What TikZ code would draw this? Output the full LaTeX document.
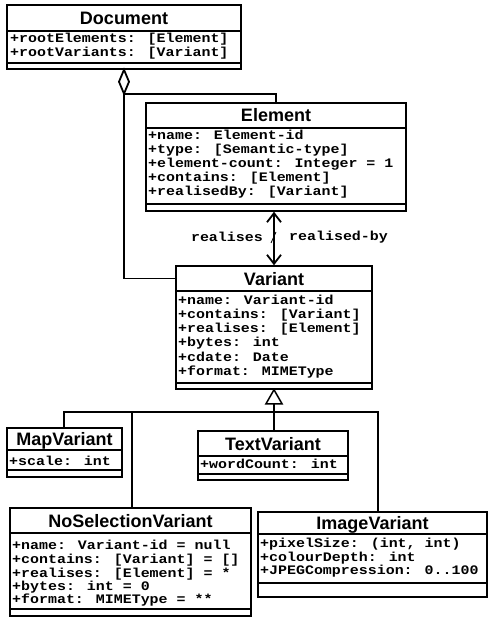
\documentclass[tikz,border=0pt]{standalone}
\usepackage{fontspec}
\usetikzlibrary{fit,arrows.meta}
\newfontfamily\titlefamily{Liberation Sans}
\newfontfamily\monofamily[FakeStretch=1.15]{Liberation Mono}

\tikzset{
  classbox/.style={draw, line width=1.5pt, inner sep=0pt},
  compline/.style={line width=1.2pt},
  classname/.style={font=\titlefamily\bfseries\fontsize{18}{20}\selectfont,
    inner sep=0pt, text height=13pt, text depth=0pt},
  attr/.style={font=\monofamily\bfseries\fontsize{13}{14}\selectfont,
    inner sep=0pt, anchor=base west},
  rolelabel/.style={font=\monofamily\bfseries\fontsize{13}{14}\selectfont,
    inner sep=0pt},
  link/.style={line width=1.8pt},
  barb/.tip={Straight Barb[length=9pt,width=14pt]},
}

% class box: name, left, top, right, title rule, attribute rule, bottom, title
\newcommand{\umlclass}[8]{%
  \node[classbox, fit={(#2,#3) (#4,#7)}] (#1) {};
  \node[inner sep=0pt, fit={(#2,#3) (#4,#5)}] (#1-head) {};
  \node[classname] (#1-name) at (#1-head.center) {#8};
  \draw[compline] (#2,#5) -- (#4,#5);
  \draw[compline] (#2,#6) -- (#4,#6);
}
% one attribute line: node name, x, baseline, text
\newcommand{\attrline}[4]{\node[attr] (#1) at (#2,#3) {#4};}

\begin{document}
\begin{tikzpicture}[x=1pt, y=-1pt]
\useasboundingbox (0,0) rectangle (489,617);

% Document
\umlclass{doc}{7}{5}{241}{31}{63}{69}{Document}
\attrline{doc-a1}{10}{43}{+rootElements: [Element]}
\attrline{doc-a2}{10}{57}{+rootVariants: [Variant]}

% Element
\umlclass{elem}{146}{103}{406}{128}{204}{211}{Element}
\attrline{elem-a1}{148}{140}{+name: Element-id}
\attrline{elem-a2}{148}{154}{+type: [Semantic-type]}
\attrline{elem-a3}{148}{168}{+element-count: Integer = 1}
\attrline{elem-a4}{148}{182}{+contains: [Element]}
\attrline{elem-a5}{148}{196}{+realisedBy: [Variant]}

% Variant
\umlclass{var}{176}{266}{372}{291}{383}{389}{Variant}
\attrline{var-a1}{178}{304}{+name: Variant-id}
\attrline{var-a2}{178}{318}{+contains: [Variant]}
\attrline{var-a3}{178}{332}{+realises: [Element]}
\attrline{var-a4}{178}{346}{+bytes: int}
\attrline{var-a5}{178}{361}{+cdate: Date}
\attrline{var-a6}{178}{375}{+format: MIMEType}

% MapVariant
\umlclass{map}{7}{428}{122}{450}{470}{477}{MapVariant}
\attrline{map-a1}{9}{465}{+scale: int}

% TextVariant
\umlclass{textv}{198}{431}{348}{456}{474}{480}{TextVariant}
\attrline{textv-a1}{200}{468}{+wordCount: int}

% NoSelectionVariant
\umlclass{nosel}{10}{508}{251}{533}{609}{616}{NoSelectionVariant}
\attrline{nosel-a1}{12}{549}{+name: Variant-id = null}
\attrline{nosel-a2}{12}{563}{+contains: [Variant] = []}
\attrline{nosel-a3}{12}{577}{+realises: [Element] = *}
\attrline{nosel-a4}{12}{590}{+bytes: int = 0}
\attrline{nosel-a5}{12}{603}{+format: MIMEType = **}

% ImageVariant
\umlclass{img}{258}{512}{487}{534}{583}{597}{ImageVariant}
\attrline{img-a1}{260}{547}{+pixelSize: (int, int)}
\attrline{img-a2}{260}{561}{+colourDepth: int}
\attrline{img-a3}{260}{574}{+JPEGCompression: 0..100}

% aggregation from Document to Element and Variant
\draw[link, fill=white] (doc.south) -- ++(5,12) -- ++(-5,12) -- ++(-5,-12) -- cycle;
\coordinate (agg) at ([yshift=-24pt]doc.south);
\draw[link] (agg) -| (elem.north);
\draw[link] (agg) |- (var-head.west);

% realises / realised-by association
\draw[link, barb-barb] (var.north |- elem.south) -- (var.north);
\draw[line width=0.8pt] (271,243) -- (276,232);
\node[rolelabel, anchor=east] (role-a) at (263,237) {realises};
\node[rolelabel, anchor=west] (role-b) at (289,237) {realised-by};

% generalisation of the Variant subclasses
\draw[link, fill=white, line width=1.5pt] (var.south) -- ++(8,14) -- ++(-16,0) -- cycle;
\coordinate (genbase) at ([yshift=-14pt]var.south);
\coordinate (busL) at (64,412);
\coordinate (busN) at (132,412);
\coordinate (busR) at (378,412);
\draw[link] (genbase) -- (genbase |- textv.north);
\draw[link] (busL |- map.north) -- (busL) -- (busR) -- (busR |- img.north);
\draw[link] (busN) -- (busN |- nosel.north);
\end{tikzpicture}
\end{document}
